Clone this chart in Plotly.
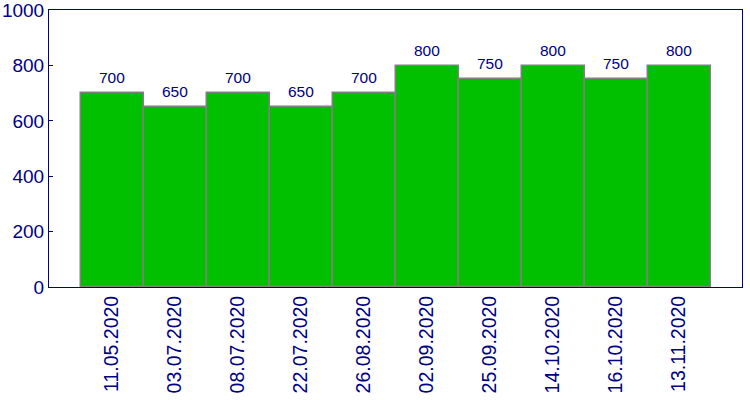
import plotly.graph_objects as go

dates = ["11.05.2020", "03.07.2020", "08.07.2020", "22.07.2020", "26.08.2020",
         "02.09.2020", "25.09.2020", "14.10.2020", "16.10.2020", "13.11.2020"]
values = [700, 650, 700, 650, 700, 800, 750, 800, 750, 800]
yticks = [0, 200, 400, 600, 800, 1000]

navy = "#000080"
fig = go.Figure()
fig.add_trace(go.Bar(
    x=list(range(len(dates))), y=values, width=1,
    marker=dict(color="#00C000", line=dict(color="#808080", width=1.5)),
    hoverinfo="skip",
))
for i, v in enumerate(values):
    fig.add_annotation(x=i, y=v, text=str(v), showarrow=False, yanchor="bottom",
                       yshift=5, font=dict(family="Liberation Sans, Arial", size=15.5, color=navy))

fig.update_layout(
    width=750, height=400,
    margin=dict(l=49, r=8, t=10, b=113),
    plot_bgcolor="white", paper_bgcolor="white",
    showlegend=False, bargap=0,
    font=dict(family="Liberation Sans, Arial", color=navy),
)
fig.update_xaxes(
    range=[-1, 10], tickmode="array", tickvals=list(range(len(dates))), ticktext=dates,
    tickangle=-90, tickfont=dict(size=19.5, color=navy), automargin=False,
    showline=True, linecolor=navy, linewidth=1, mirror=True,
    showgrid=False, ticks="", zeroline=False,
)
fig.update_yaxes(
    range=[0, 1000.5], tickvals=yticks, tickfont=dict(size=19, color=navy),
    ticklabeloverflow="allow", automargin=False,
    showline=True, linecolor=navy, linewidth=1, mirror=True,
    showgrid=False, ticks="inside", ticklen=4, tickcolor=navy, zeroline=False,
)
fig.write_html("out.html")
